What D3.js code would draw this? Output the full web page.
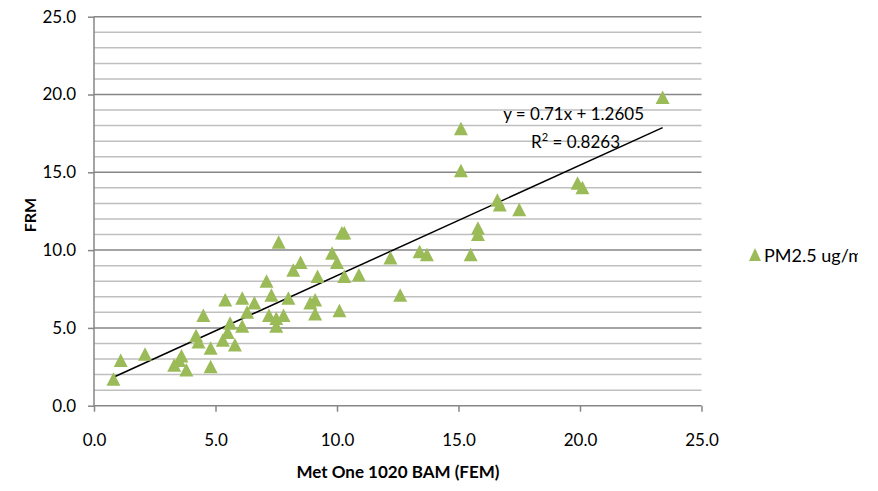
<!DOCTYPE html>
<meta charset="utf-8">
<script src="https://d3js.org/d3.v7.min.js"></script>
<style>
  body { margin: 0; background: #fff; }
  text { font-family: Lato, "Open Sans", sans-serif; fill: #000; }
</style>
<div id="chart"></div>
<script>
// data: Met One 1020 BAM (FEM) vs FRM
var bam = [0.8, 1.1, 2.1, 3.3, 3.5, 3.6, 3.8, 4.2, 4.3, 4.5, 4.8, 4.8, 5.4, 5.3, 5.5, 5.6, 5.8,
           6.1, 6.1, 6.3, 6.6, 7.1, 7.2, 7.3, 7.5, 7.6, 7.5, 7.8, 8.0, 8.2, 8.5, 8.9, 9.2, 9.1,
           9.1, 9.8, 10.0, 10.2, 10.3, 10.1, 10.3, 10.9, 12.2, 12.6, 13.4, 13.7, 15.1, 15.1,
           15.5, 15.8, 15.8, 16.6, 16.7, 17.5, 19.9, 20.1, 23.4];
var frm = [1.7, 2.9, 3.3, 2.6, 2.9, 3.2, 2.3, 4.5, 4.1, 5.8, 3.7, 2.5, 6.8, 4.2, 4.7, 5.3, 3.9,
           5.1, 6.9, 6.0, 6.6, 8.0, 5.8, 7.1, 5.6, 10.5, 5.1, 5.8, 6.9, 8.7, 9.2, 6.6, 8.3, 5.9,
           6.8, 9.8, 9.2, 11.1, 11.1, 6.1, 8.3, 8.4, 9.5, 7.1, 9.9, 9.7, 17.8, 15.1,
           9.7, 11.4, 11.0, 13.2, 12.9, 12.6, 14.3, 14.0, 19.8];
var slope = 0.71, intercept = 1.2605, r2 = 0.8263;
var axisTicks = [0, 5, 10, 15, 20, 25];
var seriesName = "PM2.5 ug/m\u00b3";

var W = 878, H = 491;
var m = {left: 94, right: 701.5, top: 16.7, bottom: 405.7};

var svg = d3.select("#chart").append("svg")
    .attr("width", W).attr("height", H)
    .style("display", "block");

var x = d3.scaleLinear().domain([0, 25]).range([m.left, m.right]);
var y = d3.scaleLinear().domain([0, 25]).range([m.bottom, m.top]);

// minor gridlines every 1 unit, major every 5
var minor = d3.range(1, 25).filter(function(d) { return d % 5 != 0; });
svg.append("g").selectAll("line").data(minor).enter().append("line")
    .attr("x1", m.left).attr("x2", m.right)
    .attr("y1", function(d) { return y(d); }).attr("y2", function(d) { return y(d); })
    .attr("stroke", "#bfbfbf").attr("stroke-width", 1.5);
svg.append("g").selectAll("line").data(axisTicks).enter().append("line")
    .attr("x1", m.left).attr("x2", m.right)
    .attr("y1", function(d) { return y(d); }).attr("y2", function(d) { return y(d); })
    .attr("stroke", "#868686").attr("stroke-width", 1.5);

// y axis
var yAxis = svg.append("g")
    .attr("transform", "translate(" + m.left + ",0)")
    .call(d3.axisLeft(y).tickValues(axisTicks).tickSize(6).tickPadding(12).tickFormat(d3.format(".1f")));
yAxis.select(".domain").remove();
yAxis.append("line").attr("x1", 0).attr("x2", 0).attr("y1", m.top).attr("y2", m.bottom)
    .attr("stroke", "#868686").attr("stroke-width", 1.5);

// x axis
var xAxis = svg.append("g")
    .attr("transform", "translate(0," + m.bottom + ")")
    .call(d3.axisBottom(x).tickValues(axisTicks).tickSize(6).tickPadding(22).tickFormat(d3.format(".1f")));
xAxis.select(".domain").remove();

svg.selectAll(".tick line").attr("stroke", "#868686").attr("stroke-width", 1.5);
svg.selectAll(".tick text").style("font-size", "17px").style("font-family", "Lato, sans-serif").attr("fill", "#000");

// axis titles
svg.append("text")
    .attr("x", 398).attr("y", 478)
    .attr("text-anchor", "middle")
    .style("font-size", "17px").style("font-weight", "bold")
    .text("Met One 1020 BAM (FEM)");
svg.append("text")
    .attr("transform", "translate(36,215) rotate(-90)")
    .attr("text-anchor", "middle")
    .style("font-size", "16px").style("font-weight", "bold")
    .text("FRM");

// trendline over the data range
var xmin = d3.min(bam), xmax = d3.max(bam);
svg.append("line")
    .attr("x1", x(xmin)).attr("y1", y(slope * xmin + intercept))
    .attr("x2", x(xmax)).attr("y2", y(slope * xmax + intercept))
    .attr("stroke", "#000").attr("stroke-width", 1.5);

// triangle marker, centred on its bounding box like Excel's
var tri = "M0,-7L7,6.5L-7,6.5Z";
svg.append("g").selectAll("path").data(bam).enter().append("path")
    .attr("d", tri)
    .attr("transform", function(d, i) { return "translate(" + x(d) + "," + y(frm[i]) + ")"; })
    .attr("fill", "#9bbb59");

// equation labels
svg.append("text")
    .attr("x", 644).attr("y", 120).attr("text-anchor", "end")
    .style("font-size", "17px")
    .text("y = " + slope + "x + " + intercept);
var r = svg.append("text")
    .attr("x", 620).attr("y", 148).attr("text-anchor", "end")
    .style("font-size", "17px");
r.append("tspan").text("R");
r.append("tspan").attr("dy", -7).style("font-size", "11px").text("2");
r.append("tspan").attr("dy", 7).text(" = " + r2);

// legend (cut off at the chart's right edge, like the original)
svg.append("clipPath").attr("id", "legclip")
  .append("rect").attr("x", 740).attr("y", 230).attr("width", 118).attr("height", 50);
var leg = svg.append("g").attr("clip-path", "url(#legclip)");
leg.append("path")
    .attr("d", "M0,-6.5L6,6.5L-6,6.5Z")
    .attr("transform", "translate(755,254.5)")
    .attr("fill", "#9bbb59");
leg.append("text")
    .attr("x", 764).attr("y", 262)
    .style("font-size", "18px")
    .text(seriesName);
</script>
